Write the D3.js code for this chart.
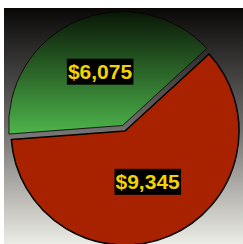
<!DOCTYPE html>
<html>
<head>
<meta charset="utf-8">
<script src="https://cdn.jsdelivr.net/npm/d3@7"></script>
<style>
  body { margin: 0; background: #fff; }
  svg { display: block; }
</style>
</head>
<body>
<div id="chart"></div>
<script>
let categories = ["Green", "Red"];
let values = [6075, 9345];
let labels = ["$6,075", "$9,345"];
let explode = [6, 0];

function drawPie() {
    let width = 243;
    let height = 244;
    let radius = 114;
    let cx = 125, cy = 131;

    let svg = d3.select("#chart")
        .append("svg")
        .attr("width", width)
        .attr("height", height);

    let defs = svg.append("defs");

    let bg = defs.append("linearGradient")
        .attr("id", "bg-grad")
        .attr("x1", 0).attr("y1", 0)
        .attr("x2", 0).attr("y2", 1);
    bg.append("stop").attr("offset", "0%").attr("stop-color", "#0a0807");
    bg.append("stop").attr("offset", "50%").attr("stop-color", "#6e6c6a");
    bg.append("stop").attr("offset", "100%").attr("stop-color", "#ecece6");

    let green = defs.append("linearGradient")
        .attr("id", "green-grad")
        .attr("x1", 0).attr("y1", 0)
        .attr("x2", 0).attr("y2", 1);
    green.append("stop").attr("offset", "0%").attr("stop-color", "#091606");
    green.append("stop").attr("offset", "100%").attr("stop-color", "#4db54b");

    svg.append("rect")
        .attr("x", 4)
        .attr("y", 8)
        .attr("width", width - 4)
        .attr("height", height - 8)
        .attr("fill", "url(#bg-grad)");

    let fills = d3.scaleOrdinal()
        .domain(categories)
        .range(["url(#green-grad)", "#a82200"]);

    let pie = d3.pie()
        .sort(null)
        .startAngle(-94.3 * Math.PI / 180)
        .endAngle((360 - 94.3) * Math.PI / 180);

    let arc = d3.arc().innerRadius(0).outerRadius(radius);

    let slices = pie(values).map(function (d, i) {
        d.cat = categories[i];
        d.label = labels[i];
        d.offset = explode[i];
        return d;
    });

    let g = svg.append("g")
        .attr("transform", "translate(" + cx + "," + cy + ")");

    let sliceG = g.selectAll("g.slice")
        .data(slices)
        .enter()
        .append("g")
        .attr("class", "slice")
        .attr("transform", function (d) {
            let a = (d.startAngle + d.endAngle) / 2;
            return "translate(" + (Math.sin(a) * d.offset) + "," + (-Math.cos(a) * d.offset) + ")";
        });

    sliceG.append("path")
        .attr("d", arc)
        .attr("fill", function (d) { return fills(d.cat); })
        .attr("stroke", "#000")
        .attr("stroke-width", function (d) { return d.cat == "Red" ? 1.5 : 0.8; })
        .attr("stroke-linejoin", "round");

    // labels sit a touch above the centroid
    sliceG.each(function (d) {
        let c = arc.centroid(d);
        let ly = c[1] - 1.5;
        let sel = d3.select(this);
        let t = sel.append("text")
            .attr("x", c[0])
            .attr("y", ly)
            .attr("text-anchor", "middle")
            .attr("dominant-baseline", "central")
            .attr("font-family", "Liberation Sans, Arial, sans-serif")
            .attr("font-weight", "bold")
            .attr("font-size", 21)
            .attr("fill", "#f2d400")
            .text(d.label);
        let b = t.node().getBBox();
        sel.insert("rect", "text")
            .attr("x", b.x - 1)
            .attr("y", ly - 13)
            .attr("width", b.width + 2)
            .attr("height", 26)
            .attr("fill", "#000");
    });
}

drawPie();
</script>
</body>
</html>
